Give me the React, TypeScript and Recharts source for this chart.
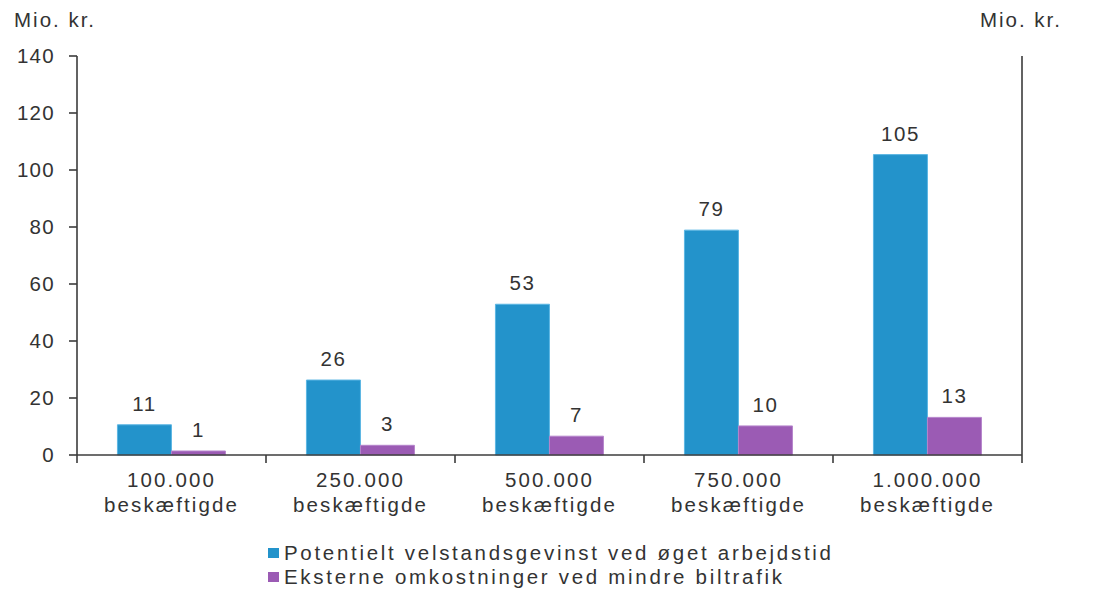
import React from 'react';
import { BarChart, Bar, XAxis, YAxis, Legend, LabelList, Label } from 'recharts';

const categories = ['100.000', '250.000', '500.000', '750.000', '1.000.000'];
const categorySuffix = 'beskæftigde';
const velstandsgevinst = [10.6, 26.3, 52.9, 78.9, 105.4];
const eksterneOmkostninger = [1.4, 3.4, 6.6, 10.2, 13.2];
const yTicks = [0, 20, 40, 60, 80, 100, 120, 140];
const seriesNames = [
  'Potentielt velstandsgevinst ved øget arbejdstid',
  'Eksterne omkostninger ved mindre biltrafik',
];
const unitLabel = 'Mio. kr.';

const data = categories.map((c, i) => ({
  name: c,
  a: velstandsgevinst[i],
  b: eksterneOmkostninger[i],
}));

const W = 1094;
const H = 592;
const LEFT_W = 77;
const RIGHT_W = 72;
const FONT = "'Liberation Sans', Arial, sans-serif";
const FS = 20.5;
const TXT = '#333333';
const AXIS = '#3c3c3c';
const BLUE = '#2393cb';
const PURPLE = '#9b5bb4';

const plotW = W - LEFT_W - RIGHT_W;
const half = plotW / categories.length / 2;

const XTick = (props: any) => {
  const { x, y, payload, index } = props;
  const lines = [
    <line key="l" x1={x - half} x2={x - half} y1={y} y2={y + 8} stroke={AXIS} strokeWidth={1.6} />,
  ];
  if (index === categories.length - 1) {
    lines.push(<line key="r" x1={x + half} x2={x + half} y1={y} y2={y + 8} stroke={AXIS} strokeWidth={1.6} />);
  }
  return (
    <g>
      {lines}
      <text x={x} y={y + 32} textAnchor="middle" fill={TXT} fontSize={FS} fontFamily={FONT} letterSpacing={2.1}>
        {payload.value}
      </text>
      <text x={x} y={y + 57} textAnchor="middle" fill={TXT} fontSize={FS} fontFamily={FONT} letterSpacing={2.1}>
        {categorySuffix}
      </text>
    </g>
  );
};

const LegendContent = () => {
  const colors = [BLUE, PURPLE];
  return (
    <div style={{ fontFamily: FONT, fontSize: FS, color: TXT, letterSpacing: 2.7 }}>
      {seriesNames.map((n, i) => (
        <div key={n} style={{ display: 'flex', alignItems: 'center', height: 24, whiteSpace: 'nowrap' }}>
          <span style={{ display: 'inline-block', width: 11, height: 10, background: colors[i], marginRight: 5 }} />
          <span>{n}</span>
        </div>
      ))}
    </div>
  );
};

const tickStyle = { fill: TXT, fontSize: FS, fontFamily: FONT, letterSpacing: 1.3 } as any;

export default function App() {
  return (
    <div style={{ position: 'absolute', left: 0, top: 0, width: W, height: H, background: '#fff' }}>
      <BarChart
        width={W}
        height={H}
        data={data}
        margin={{ top: 56, right: 0, left: 0, bottom: 77 }}
        barCategoryGap="21.4%"
        barGap={0}
      >
        <XAxis
          dataKey="name"
          height={60}
          tickLine={false}
          tickSize={0}
          tickMargin={0}
          axisLine={{ stroke: AXIS, strokeWidth: 1.6 }}
          tick={<XTick />}
          interval={0}
        />
        <YAxis
          yAxisId="left"
          orientation="left"
          width={LEFT_W}
          domain={[0, 140]}
          ticks={yTicks}
          interval={0}
          tickSize={8}
          tickMargin={14}
          axisLine={{ stroke: AXIS, strokeWidth: 1.6 }}
          tickLine={{ stroke: AXIS, strokeWidth: 1.6 }}
          tick={tickStyle}
        >
          <Label
            content={() => (
              <text x={14} y={27} fill={TXT} fontSize={FS} fontFamily={FONT} letterSpacing={2}>
                {unitLabel}
              </text>
            )}
          />
        </YAxis>
        <YAxis
          yAxisId="right"
          orientation="right"
          width={RIGHT_W}
          domain={[0, 140]}
          ticks={yTicks}
          interval={0}
          tickSize={8}
          tickMargin={16}
          axisLine={{ stroke: AXIS, strokeWidth: 1.6 }}
          tickLine={{ stroke: AXIS, strokeWidth: 1.6 }}
          tick={tickStyle}
        >
          <Label
            content={() => (
              <text x={1062} y={27} textAnchor="end" fill={TXT} fontSize={FS} fontFamily={FONT} letterSpacing={2}>
                {unitLabel}
              </text>
            )}
          />
        </YAxis>
        <Legend
          layout="vertical"
          align="center"
          verticalAlign="middle"
          content={<LegendContent />}
          wrapperStyle={{ position: 'absolute', left: 268, top: 541, width: 'auto', height: 'auto' }}
        />
        <Bar dataKey="a" yAxisId="left" fill={BLUE} stroke="#5cb6e3" strokeWidth={1} isAnimationActive={false}>
          <LabelList
            dataKey="a"
            position="top"
            offset={14}
            formatter={(v: any) => Math.round(Number(v))}
            style={{ fill: TXT, fontSize: FS, fontFamily: FONT, letterSpacing: 1.5 }}
          />
        </Bar>
        <Bar dataKey="b" yAxisId="left" fill={PURPLE} stroke="#b584cb" strokeWidth={1} isAnimationActive={false}>
          <LabelList
            dataKey="b"
            position="top"
            offset={14}
            formatter={(v: any) => Math.round(Number(v))}
            style={{ fill: TXT, fontSize: FS, fontFamily: FONT, letterSpacing: 1.5 }}
          />
        </Bar>
      </BarChart>
    </div>
  );
}
